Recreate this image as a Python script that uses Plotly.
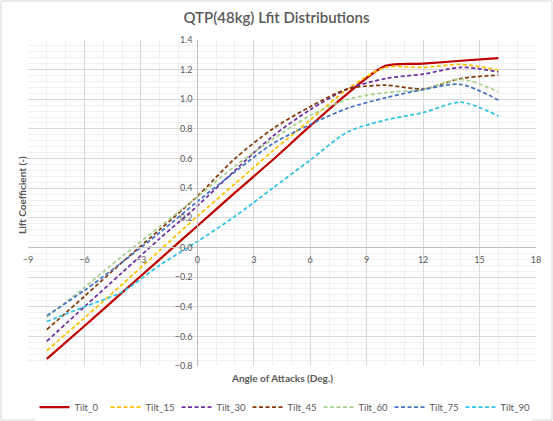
import plotly.graph_objects as go

aoa = [-8, -6, -4, -2, 0, 2, 4, 6, 8, 10, 12, 14, 16]

tilt_0 = [-0.752, -0.53, -0.305, -0.08, 0.145, 0.37, 0.59, 0.82, 1.04, 1.225, 1.24, 1.26, 1.278]
tilt_15 = [-0.696, -0.475, -0.25, -0.02, 0.21, 0.43, 0.65, 0.86, 1.07, 1.215, 1.215, 1.235, 1.198]
tilt_30 = [-0.633, -0.40, -0.17, 0.06, 0.28, 0.52, 0.75, 0.93, 1.07, 1.14, 1.17, 1.215, 1.185]
tilt_45 = [-0.554, -0.33, -0.10, 0.12, 0.345, 0.60, 0.80, 0.95, 1.07, 1.095, 1.07, 1.14, 1.163]
tilt_60 = [-0.47, -0.27, -0.06, 0.14, 0.34, 0.55, 0.73, 0.89, 1.00, 1.045, 1.065, 1.135, 1.05]
tilt_75 = [-0.46, -0.29, -0.10, 0.10, 0.31, 0.51, 0.70, 0.83, 0.94, 1.01, 1.065, 1.10, 0.995]
tilt_90 = [-0.50, -0.40, -0.30, -0.12, 0.04, 0.21, 0.40, 0.59, 0.78, 0.86, 0.91, 0.98, 0.887]

series_names = ["Tilt_0", "Tilt_15", "Tilt_30", "Tilt_45", "Tilt_60", "Tilt_75", "Tilt_90"]
series_values = [tilt_0, tilt_15, tilt_30, tilt_45, tilt_60, tilt_75, tilt_90]
colors = ["#c00000", "#ffc000", "#7030a0", "#843c0c", "#a9d18e", "#4472c4", "#2ec4e8"]

title_text = "QTP(48kg) Lfit Distributions"
x_title = "Angle of Attacks (Deg.)"
y_title = "Lift Coefficient (-)"

fig = go.Figure()
for name, vals, col in zip(series_names, series_values, colors):
    solid = name == "Tilt_0"
    fig.add_trace(go.Scatter(
        x=aoa, y=vals, name=name, mode="lines",
        line=dict(color=col, width=2.25 if solid else 1.75,
                  dash="solid" if solid else "4px,2.5px",
                  shape="spline", smoothing=0.8),
    ))

grid_major = "#d9d9d9"
grid_minor = "#f0f0f0"
tick_font = dict(family="Lato, Open Sans, sans-serif", size=9, color="#595959")

fig.update_layout(
    width=553, height=421,
    margin=dict(l=28, r=17, t=40, b=55, autoexpand=False),
    paper_bgcolor="white", plot_bgcolor="white",
    title=dict(text=title_text, x=0.5, xanchor="center", y=0.957, yanchor="middle",
               font=dict(family="Lato, Open Sans, sans-serif", size=15, color="#595959", weight=600)),
    showlegend=True,
    legend=dict(orientation="h", x=0.502, xanchor="center", y=-0.126, yanchor="middle",
                font=dict(family="Lato, Open Sans, sans-serif", size=9.5, color="#595959"),
                entrywidth=26, entrywidthmode="pixels", itemwidth=30, tracegroupgap=0),
    xaxis=dict(range=[-9, 18], dtick=3, tick0=0, showgrid=True, gridcolor=grid_major, gridwidth=1,
               minor=dict(dtick=1, showgrid=True, gridcolor=grid_minor),
               zeroline=False, showline=True, linecolor="#bfbfbf", linewidth=1,
               anchor="free", position=0.8 / 2.2, ticks="", tickfont=tick_font,
               ticklabelstandoff=4),
    yaxis=dict(range=[-0.8, 1.4], dtick=0.2, tick0=0, tickformat=".1f", showgrid=True,
               gridcolor=grid_major, gridwidth=1,
               minor=dict(dtick=0.04, showgrid=True, gridcolor=grid_minor),
               zeroline=False, showline=True, linecolor="#bfbfbf", linewidth=1,
               anchor="free", position=9 / 27, ticks="", tickfont=tick_font,
               ticklabelstandoff=3),
)

# axis titles
fig.add_annotation(text=x_title, xref="paper", yref="paper", x=0.5, y=(366 - 378) / 326,
                   showarrow=False, xanchor="center", yanchor="middle",
                   font=dict(family="Lato, Open Sans, sans-serif", size=10, color="#595959", weight="bold"))
fig.add_annotation(text=y_title, xref="paper", yref="paper", x=(22 - 28) / 508, y=(366 - 195) / 326,
                   showarrow=False, xanchor="center", yanchor="middle", textangle=-90,
                   font=dict(family="Lato, Open Sans, sans-serif", size=10, color="#595959", weight="bold"))

# chart-area border
fig.add_shape(type="rect", xref="paper", yref="paper",
              x0=(1 - 28) / 508, x1=(552 - 28) / 508,
              y0=(366 - 420) / 326, y1=(366 - 1) / 326,
              line=dict(color="#d9d9d9", width=1), fillcolor="rgba(0,0,0,0)", layer="above")

fig.write_html("out.html", config={"displayModeBar": False},
               post_script="document.body.style.margin='0';document.body.style.overflow='hidden';")
